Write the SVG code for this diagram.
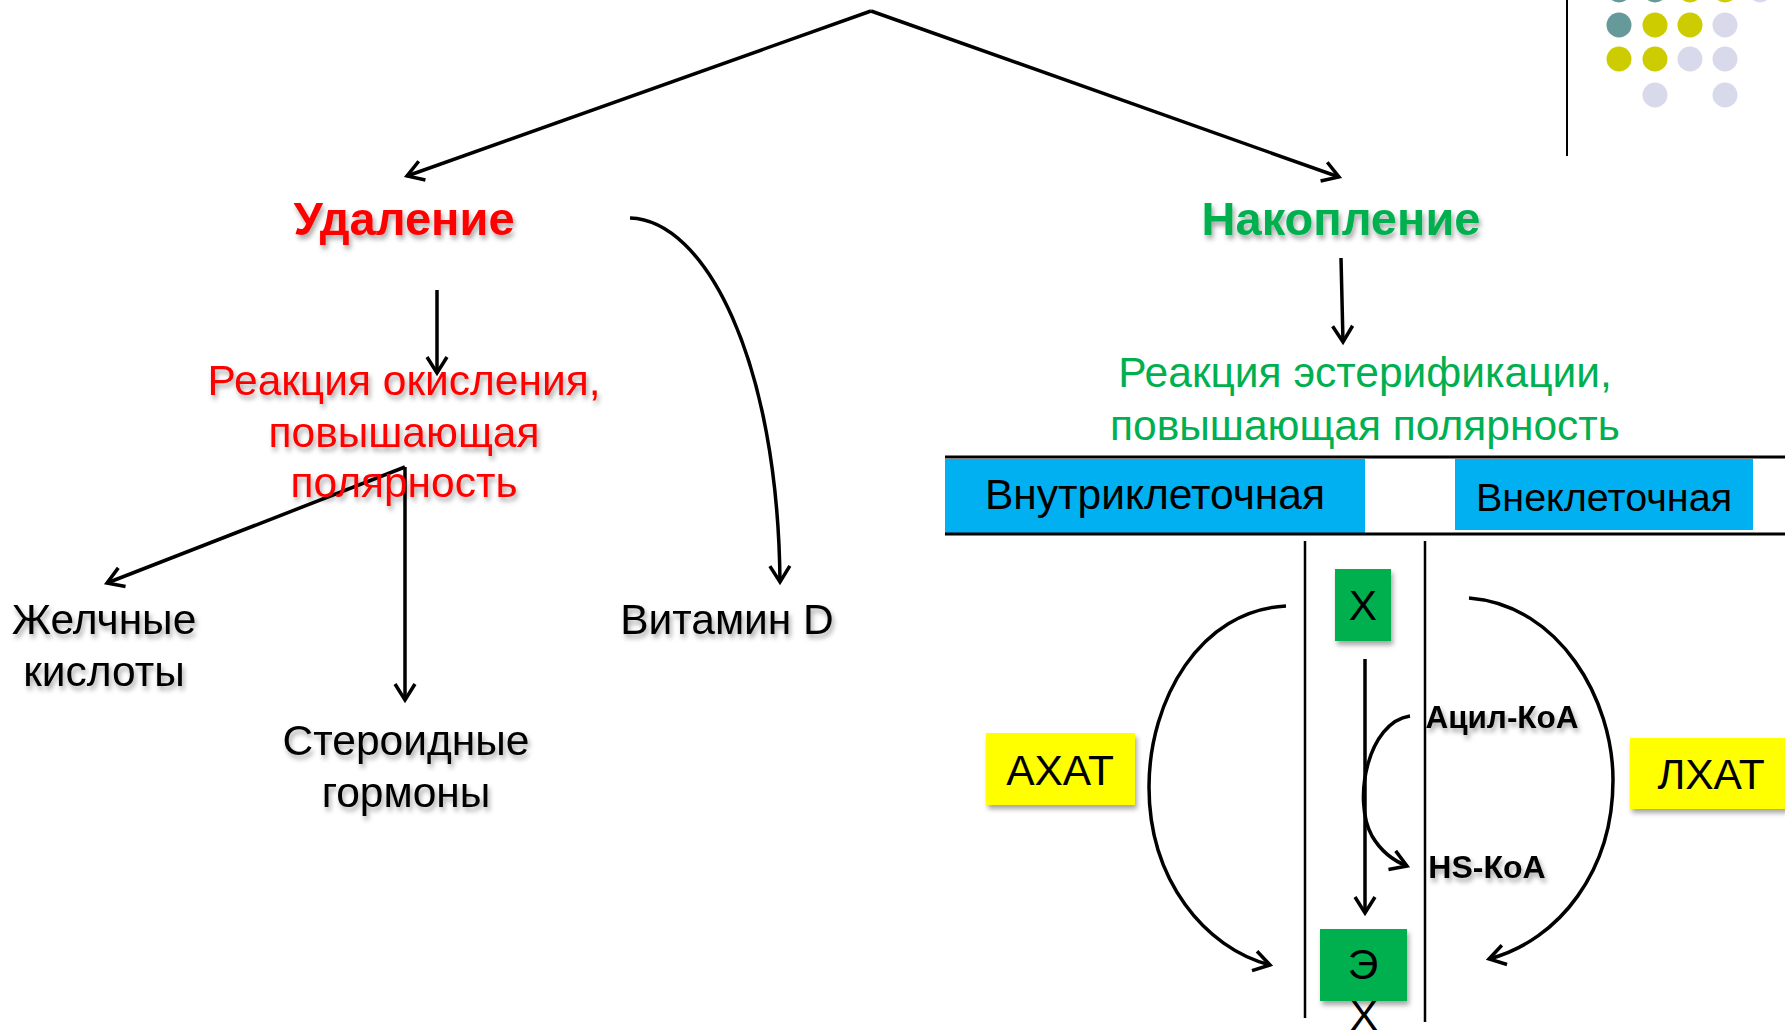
<svg xmlns="http://www.w3.org/2000/svg" width="1785" height="1034" viewBox="0 0 1785 1034">
<style>
text{font-family:"Liberation Sans",Arial,sans-serif;text-anchor:middle}
.t42{font-size:42.5px;fill:#000}
.red{fill:#FF0000}
.grn{fill:#00B050}
.big{font-size:47px;font-weight:bold}
.ln{stroke:#000;stroke-width:3.5;fill:none}
.mem{stroke:#000;stroke-width:2.5;fill:none}
.sh{filter:url(#shadow)}
</style>
<defs>
<filter id="shadow" x="-20%" y="-20%" width="140%" height="160%">
<feDropShadow dx="2" dy="4" stdDeviation="2.5" flood-color="#000" flood-opacity="0.35"/>
</filter>
<marker id="arr" markerUnits="userSpaceOnUse" markerWidth="26" markerHeight="26" viewBox="0 0 26 26" refX="21" refY="13" orient="auto" overflow="visible">
<path d="M5,3 L21,13 L5,23" fill="none" stroke="#000" stroke-width="3.5" stroke-linejoin="miter"/>
</marker>
</defs>
<rect width="1785" height="1034" fill="#fff"/>

<g id="decor">
<line x1="1567" y1="0" x2="1567" y2="156" stroke="#000" stroke-width="2"/>
<circle cx="1619" cy="-10" r="12.5" fill="#669999"/>
<circle cx="1655" cy="-10" r="12.5" fill="#669999"/>
<circle cx="1690" cy="-10" r="12.5" fill="#CCCC00"/>
<circle cx="1725" cy="-10" r="12.5" fill="#CCCC00"/>
<circle cx="1760" cy="-10" r="12.5" fill="#D9D9EC"/>
<circle cx="1619" cy="25" r="12.5" fill="#669999"/>
<circle cx="1655" cy="25" r="12.5" fill="#CCCC00"/>
<circle cx="1690" cy="25" r="12.5" fill="#CCCC00"/>
<circle cx="1725" cy="25" r="12.5" fill="#D9D9EC"/>
<circle cx="1619" cy="59" r="12.5" fill="#CCCC00"/>
<circle cx="1655" cy="59" r="12.5" fill="#CCCC00"/>
<circle cx="1690" cy="59" r="12.5" fill="#D9D9EC"/>
<circle cx="1725" cy="59" r="12.5" fill="#D9D9EC"/>
<circle cx="1655" cy="95" r="12.5" fill="#D9D9EC"/>
<circle cx="1725" cy="95" r="12.5" fill="#D9D9EC"/>
</g>

<g id="band">
<rect x="945" y="459" width="420" height="74" fill="#00B0F0"/>
<rect x="1455" y="459" width="298" height="71" fill="#00B0F0"/>
<line x1="945" y1="457" x2="1785" y2="457" stroke="#000" stroke-width="3"/>
<line x1="945" y1="534" x2="1785" y2="534" stroke="#000" stroke-width="3"/>
<text x="1155" y="509" style="font-size:42.5px">Внутриклеточная</text>
<text x="1604" y="511" style="font-size:39.5px">Внеклеточная</text>
</g>

<g id="membrane">
<line class="mem" x1="1305" y1="541" x2="1305" y2="1018"/>
<line class="mem" x1="1425" y1="541" x2="1425" y2="1022"/>
</g>

<g id="connectors">
<line class="ln" x1="871" y1="11" x2="407" y2="176" marker-end="url(#arr)"/>
<line class="ln" x1="871" y1="11" x2="1339" y2="177" marker-end="url(#arr)"/>
<line class="ln" x1="437" y1="290" x2="437" y2="373" marker-end="url(#arr)"/>
<line class="ln" x1="1341" y1="258" x2="1343" y2="342" marker-end="url(#arr)"/>
<line class="ln" x1="405" y1="467" x2="107" y2="583" marker-end="url(#arr)"/>
<line class="ln" x1="405" y1="467" x2="405" y2="700" marker-end="url(#arr)"/>
<path class="ln" d="M630,218 C705,220 778,360 780,582" marker-end="url(#arr)"/>
<line class="ln" x1="1365" y1="659" x2="1365" y2="913" marker-end="url(#arr)"/>
<path class="ln" d="M1410,716 C1368,722 1352,800 1372,836 C1382,853 1394,861 1407,866" marker-end="url(#arr)"/>
<path class="ln" d="M1286,606 C1200,610 1149,700 1149,787 C1149,880 1205,948 1270,965" marker-end="url(#arr)"/>
<path class="ln" d="M1469,598 C1560,605 1613,700 1613,780 C1613,870 1560,940 1489,959" marker-end="url(#arr)"/>
</g>

<g id="udalenie" class="sh"><text class="big red" x="404" y="235">Удаление</text></g>
<g id="nakoplenie" class="sh"><text class="big grn" x="1341" y="235">Накопление</text></g>

<g id="oxidation" class="sh">
<text class="red" style="font-size:42.5px" x="404" y="395">Реакция окисления,</text>
<text class="red" style="font-size:42.5px" x="404" y="447">повышающая</text>
<text class="red" style="font-size:42.5px" x="404" y="497">полярность</text>
</g>

<g id="esterification">
<text class="grn" style="font-size:42.5px" x="1365" y="387">Реакция эстерификации,</text>
<text class="grn" style="font-size:42.5px" x="1365" y="440">повышающая полярность</text>
</g>

<g id="bile" class="sh">
<text class="t42" x="104" y="634">Желчные</text>
<text class="t42" x="104" y="686">кислоты</text>
</g>
<g id="steroid" class="sh">
<text class="t42" x="406" y="755">Стероидные</text>
<text class="t42" x="406" y="807">гормоны</text>
</g>
<g id="vitd" class="sh"><text class="t42" x="727" y="634">Витамин D</text></g>

<g id="chol">
<rect class="sh" x="1335" y="569" width="56" height="72" fill="#00B050"/>
<text class="t42" x="1363" y="620">Х</text>
</g>
<g id="ester">
<rect class="sh" x="1320" y="929" width="87" height="72" fill="#00B050"/>
<text class="t42" x="1363" y="979">Э</text>
<text class="t42" x="1364" y="1030">Х</text>
</g>

<g id="achat">
<rect class="sh" x="986" y="733" width="149" height="72" fill="#FFFF00"/>
<text class="t42" x="1060" y="785">АХАТ</text>
</g>
<g id="lchat">
<rect class="sh" x="1630" y="738" width="160" height="71" fill="#FFFF00"/>
<text class="t42" x="1711" y="789">ЛХАТ</text>
</g>

<g id="acyl" class="sh"><text style="font-size:31.5px;font-weight:bold" x="1502" y="728">Ацил-КоА</text></g>
<g id="hscoa" class="sh"><text style="font-size:32px;font-weight:bold" x="1487" y="878">HS-КоА</text></g>
</svg>
